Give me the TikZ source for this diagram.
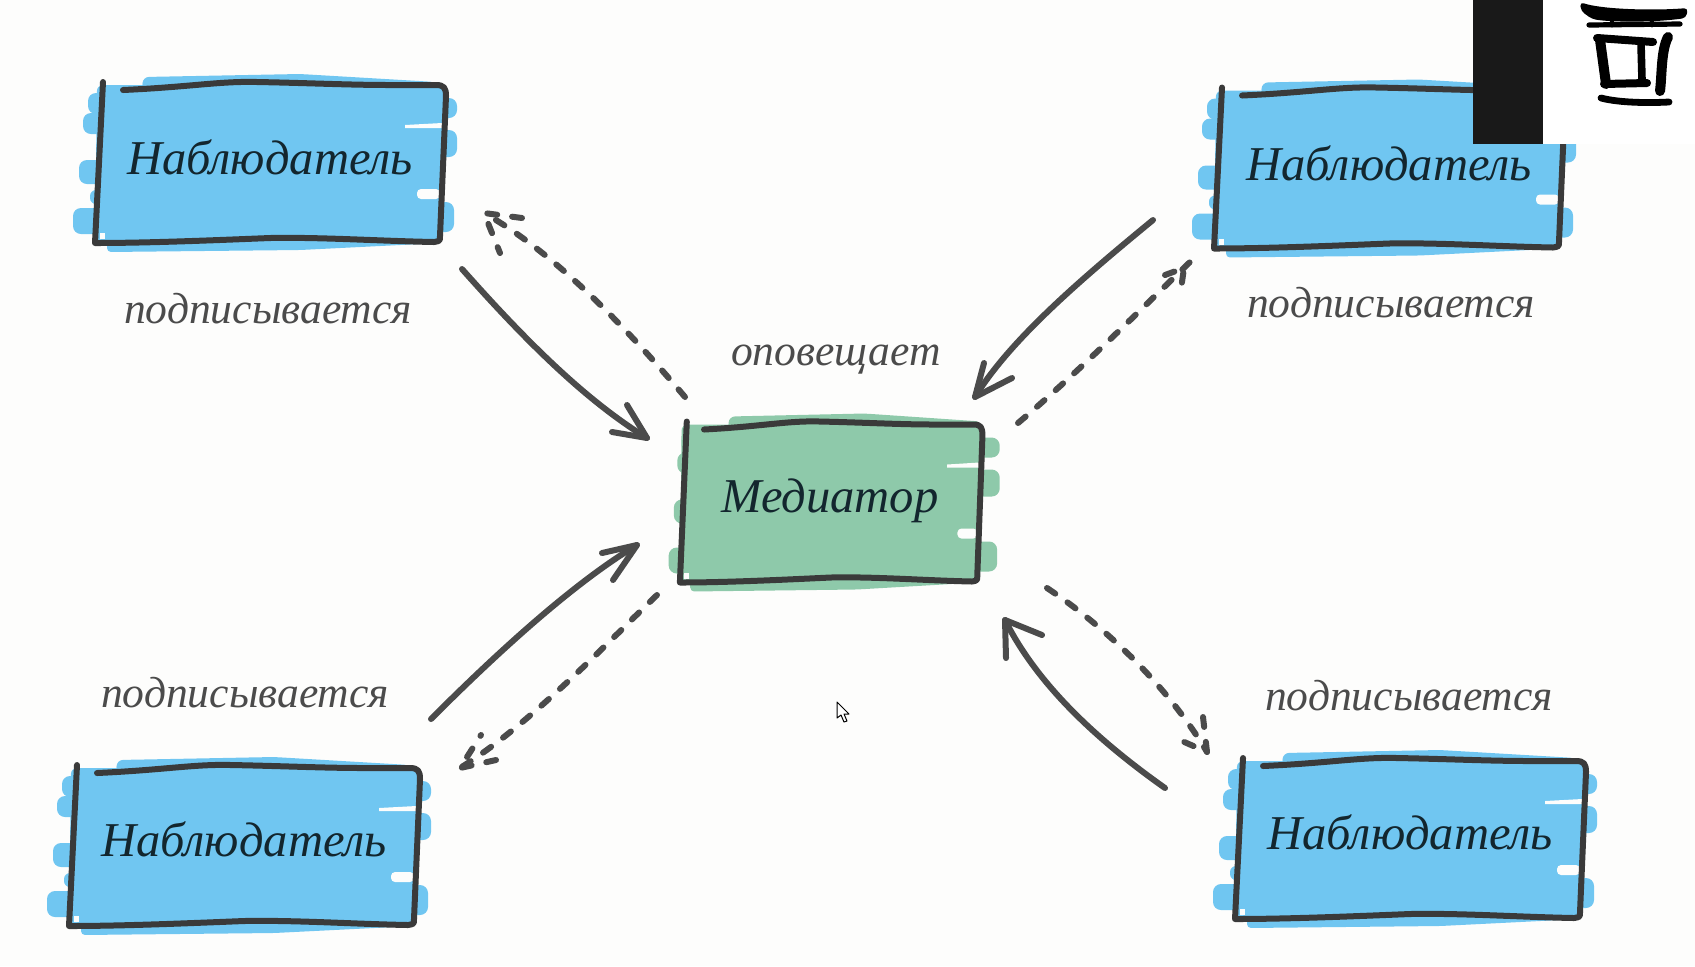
\documentclass[tikz,border=0pt]{standalone}
\usepackage{fontspec}
\setmainfont{Liberation Serif}
\definecolor{paper}{HTML}{FDFDFC}
\definecolor{brushblue}{HTML}{70C6F1}
\definecolor{brushgreen}{HTML}{8EC9AA}
\definecolor{inkbox}{HTML}{3A3A3A}
\definecolor{inkconn}{HTML}{4B4B4B}
\definecolor{inktext}{HTML}{13262E}
\tikzset{
  boxline/.style={draw=inkbox,line width=3pt,line cap=round,line join=round},
  boxtext/.style={text=inktext,font=\itshape\fontsize{24.3}{28}\selectfont,inner sep=0pt},
  edgetext/.style={text=inkconn,font=\itshape\fontsize{21.8}{26}\selectfont,inner sep=0pt},
  solidconn/.style={draw=inkconn,line width=3pt,line cap=round,line join=round},
  dashconn/.style={solidconn,dash pattern=on 5pt off 7.5pt},
  logoink/.style={draw=black,line cap=round,line join=round}
}
\newcommand{\brushbox}[3]{%
  \begin{scope}[#1]
    \fill[#2,rounded corners=3pt] (97,85) -- (445,85) -- (440,243) -- (95,243) -- cycle;
    \begin{scope}[shift={(#3,0)}]
    \fill[#2,rounded corners=3pt] (142,90) -- (143,77) -- (300,74) -- (436,82) -- (436,90) -- cycle;
    \fill[#2,rounded corners=4pt] (88,93) rectangle (112,114);
    \fill[#2,rounded corners=4pt] (83,113) rectangle (112,134);
    \fill[#2,rounded corners=4pt] (79,160) rectangle (112,184);
    \fill[#2,rounded corners=3pt] (90,190) rectangle (112,204);
    \fill[#2,rounded corners=4pt] (73,208) rectangle (112,234);
    \fill[#2,rounded corners=4pt] (425,98) rectangle (457,118);
    \fill[#2,rounded corners=4pt] (425,130) rectangle (457,157);
    \fill[#2,rounded corners=4pt] (420,202) rectangle (454,232);
    \end{scope}
    \fill[#2,rounded corners=2pt] (107,238) -- (440,238) -- (440,243) -- (300,250) -- (107,252) -- cycle;
    \fill[paper] (405,125) -- (442,123) -- (442,128) -- (405,128) -- cycle;
    \fill[paper,rounded corners=2pt] (417,189) rectangle (440,199);
    \fill[paper] (100,233) rectangle (105,239);
    \draw[boxline] (123,90) .. controls (190,87) and (220,81) .. (257,82)
      .. controls (310,83) and (350,85) .. (390,85) -- (436,85)
      .. controls (444,85) and (446,88) .. (446,96) -- (440,236)
      .. controls (440,241) .. (434,242)
      .. controls (380,241) and (320,237) .. (270,238)
      .. controls (220,240) and (150,243) .. (95,243) -- (103,82);
  \end{scope}}
\begin{document}
\begin{tikzpicture}[x=0.5pt,y=-0.5pt]
\useasboundingbox (0,0) rectangle (1695,966);
\fill[paper] (0,0) rectangle (1695,966);

% sketched boxes
\brushbox{}{brushblue}{0}
\brushbox{shift={(1119,5.5)}}{brushblue}{0}
\brushbox{shift={(-26,683)}}{brushblue}{0}
\brushbox{shift={(1140,676)}}{brushblue}{0}
\brushbox{shift={(598,339.5)},xscale=.862}{brushgreen}{9}

% box texts
\node[boxtext] (obsA) at (270,157) {Наблюдатель};
\node[boxtext] (obsB) at (1389,163) {Наблюдатель};
\node[boxtext] (obsC) at (244,839) {Наблюдатель};
\node[boxtext] (obsD) at (1410,832) {Наблюдатель};
\node[boxtext] (med)  at (830,501) {Медиатор};

% edge texts
\node[edgetext] (subA) at (268,309) {подписывается};
\node[edgetext] (subB) at (1391,303) {подписывается};
\node[edgetext] (subC) at (245,693) {подписывается};
\node[edgetext] (subD) at (1409,696) {подписывается};
\node[edgetext] (notify) at (836,360) {оповещает};

% connector ends
\coordinate (aS) at (462,269); \coordinate (aE) at (647,438);
\coordinate (a1) at (627,405); \coordinate (a2) at (612,432);
\coordinate (bS) at (1153,220); \coordinate (bE) at (975,397);
\coordinate (b1) at (984,363); \coordinate (b2) at (1012,378);
\coordinate (cS) at (431,719); \coordinate (cE) at (637,545);
\coordinate (c1) at (602,553); \coordinate (c2) at (613,580);
\coordinate (dS) at (1165,788); \coordinate (dE) at (1005,620);
\coordinate (d1) at (1006,658); \coordinate (d2) at (1042,635);
\coordinate (eS) at (685,397); \coordinate (eE) at (484,213);
\coordinate (e1) at (522,218); \coordinate (e2) at (500,253);
\coordinate (fS) at (1018,423); \coordinate (fE) at (1190,262);
\coordinate (f1) at (1165,275); \coordinate (f2) at (1181,289); \coordinate (fT) at (1184,268);
\coordinate (gS) at (657,595); \coordinate (gE) at (460,768);
\coordinate (g1) at (496,760); \coordinate (g2) at (481,735);
\coordinate (hS) at (1047,588); \coordinate (hE) at (1207,752);
\coordinate (h1) at (1203,717); \coordinate (h2) at (1182,741);

% solid connectors
\draw[solidconn] (aS) .. controls (525,340) and (585,400) .. (aE);
\draw[solidconn] (a1) -- (aE) -- (a2);
\draw[solidconn] (bS) .. controls (1080,280) and (1010,340) .. (bE);
\draw[solidconn] (b1) -- (bE) -- (b2);
\draw[solidconn] (cS) .. controls (490,660) and (570,585) .. (cE);
\draw[solidconn] (c1) -- (cE) -- (c2);
\draw[solidconn] (dS) .. controls (1090,735) and (1035,680) .. (dE);
\draw[solidconn] (d1) -- (dE) -- (d2);

% dashed connectors
\draw[dashconn] (eS) .. controls (620,320) and (550,250) .. (eE);
\draw[dashconn] (e1) -- (eE) -- (e2);
\draw[dashconn] (fS) .. controls (1075,375) and (1130,320) .. (fE);
\draw[dashconn] (f1) -- (fT) -- (f2);
\draw[dashconn] (gS) .. controls (610,640) and (530,725) .. (gE);
\draw[dashconn] (g1) -- (gE) -- (g2);
\draw[dashconn] (hS) .. controls (1110,630) and (1170,690) .. (hE);
\draw[dashconn] (h1) -- (hE) -- (h2);

% mouse pointer
\draw[black,fill=white,line width=.5pt,line join=round]
  (837,702) -- (837,718) -- (841,715) -- (844,722) -- (847,721) -- (844,714) -- (849,714) -- cycle;

% overlay in the top right corner
\fill[white] (1543,0) rectangle (1695,144);
\fill[black!90] (1473,0) rectangle (1543,144);
\fill[black,rounded corners=2pt] (1580,2) .. controls (1600,9) and (1650,11) .. (1688,8)
  -- (1686,18) .. controls (1650,23) and (1610,22) .. (1592,19) -- (1581,11) -- cycle;
\draw[logoink,line width=2.6pt] (1589,25) -- (1680,24);
\draw[logoink,line width=2.4pt] (1612,20) -- (1612,25) (1652,20) -- (1652,25);
\draw[logoink,line width=4pt] (1597,38) -- (1653,42);
\draw[logoink,line width=5pt] (1600,40) -- (1606,84);
\draw[logoink,line width=4pt] (1604,84) -- (1647,83);
\draw[logoink,line width=3.8pt] (1641,44) -- (1642,80);
\draw[logoink,line width=5pt] (1668,37) .. controls (1661,50) and (1662,75) .. (1660,91);
\draw[logoink,line width=3.4pt] (1601,98) .. controls (1620,103) and (1650,103) .. (1669,102);
\end{tikzpicture}
\end{document}
